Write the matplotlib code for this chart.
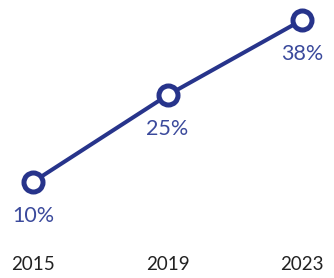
import matplotlib
matplotlib.use("Agg")
import matplotlib.pyplot as plt

years = [2015, 2019, 2023]
values = [10, 25, 38]
value_labels = ["10%", "25%", "38%"]
year_labels = ["2015", "2019", "2023"]

navy = "#27348b"
label_blue = "#3b4a9c"

fig = plt.figure(figsize=(3.34, 2.78), dpi=100)
ax = fig.add_axes([0, 0, 1, 1])
ax.set_xlim(2014.02, 2023.95)
ax.set_ylim(-6.6, 41.46)
ax.axis("off")

ax.plot(years, values, color=navy, lw=2.9, marker="o", ms=13.7,
        mfc="white", mec=navy, mew=3.6, zorder=3)

# value labels just under each point
for x, y, lab in zip(years, values, value_labels):
    ax.annotate(lab, (x, y), xytext=(0, -24.5), textcoords="offset points",
                ha="center", va="center", fontsize=15.5, color=label_blue,
                family="Lato")

# year labels along the bottom
for x, lab in zip(years, year_labels):
    ax.text(x, 13 / 278, lab, transform=ax.get_xaxis_transform(), ha="center",
            va="center", fontsize=13.5, color="#222222", family="Lato")

fig.savefig("out.png", dpi=100, facecolor="white")
